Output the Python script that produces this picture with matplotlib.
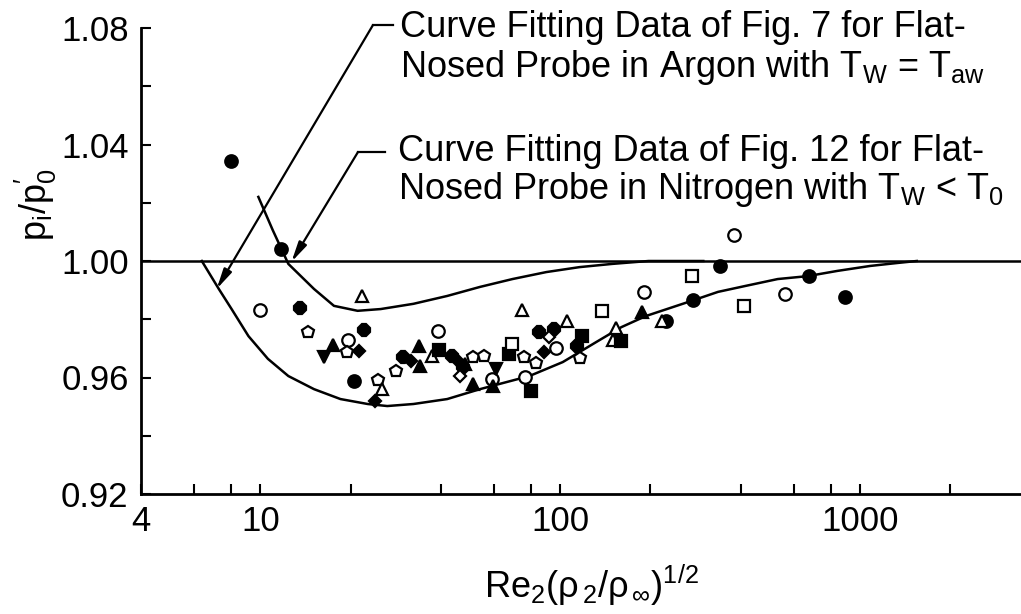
import numpy as np
import matplotlib
matplotlib.use("Agg")
import matplotlib.pyplot as plt
from matplotlib.lines import Line2D
from matplotlib.transforms import IdentityTransform
from matplotlib.ticker import FixedLocator, NullFormatter

FONT = ['Liberation Sans', 'DejaVu Sans']
plt.rcParams['font.family'] = FONT
plt.rcParams['mathtext.fontset'] = 'custom'
for k in ('rm', 'it', 'bf', 'sf'):
    plt.rcParams['mathtext.' + k] = FONT[0]

# fitted curves
argon_x = [6.38, 7.27, 8.02, 9.13, 10.6, 12.4, 15.1, 18.5, 22.8, 26.5, 32.4, 42.0,
           54.0, 62.8, 78.9, 102, 132, 160, 193, 274, 336, 413, 531, 668, 840,
           1080, 1326, 1545]
argon_y = [1.000, 0.9904, 0.9835, 0.9742, 0.9664, 0.9605, 0.9560, 0.9526, 0.9509,
           0.9502, 0.9509, 0.9526, 0.9560, 0.9578, 0.9605, 0.9653, 0.9722, 0.9773,
           0.9811, 0.9863, 0.9894, 0.9914, 0.9938, 0.9948, 0.9966, 0.9983, 0.9993,
           1.000]
nitro_x = [9.85, 11.0, 12.4, 15.1, 17.6, 21.1, 25.2, 32.4, 42.0, 54.0, 69.3, 89.9,
           116, 149, 197, 300]
nitro_y = [1.022, 1.0106, 0.999, 0.9904, 0.9846, 0.9829, 0.9835, 0.9853, 0.988,
           0.9911, 0.9938, 0.9962, 0.9979, 0.999, 1.000, 1.000]

# data points, grouped by symbol
fc_x = [7.97, 11.7, 20.5, 226, 278, 341, 678, 891]
fc_y = [1.0343, 1.0041, 0.9588, 0.9794, 0.9866, 0.9983, 0.9949, 0.9877]
oc_x = [10.0, 19.6, 39.2, 59.1, 76.6, 97.0, 191, 379, 560]
oc_y = [0.9832, 0.9729, 0.9760, 0.9595, 0.9602, 0.9702, 0.9894, 1.0089, 0.9887]
fb_x = [13.6, 22.1, 29.8, 43.5, 47.3, 85.1, 95.5, 114]
fb_y = [0.9839, 0.9763, 0.9671, 0.9674, 0.9636, 0.9756, 0.9767, 0.9708]
of_x = [14.4, 19.4, 24.6, 28.4, 51.1, 55.6, 76.0, 83.3, 116]
of_y = [0.9756, 0.9688, 0.9592, 0.9623, 0.9671, 0.9674, 0.9671, 0.9650, 0.9667]
ft_x = [17.5, 33.9, 34.1, 48.1, 51.1, 59.6, 187]
ft_y = [0.9712, 0.9708, 0.9640, 0.9647, 0.9578, 0.9571, 0.9825]
fv_x = [16.3, 60.9]
fv_y = [0.9671, 0.9630]
ot_x = [25.4, 105, 153, 21.9, 37.4, 74.3, 150, 218]
ot_y = [0.9561, 0.9794, 0.9770, 0.9880, 0.9674, 0.9832, 0.9729, 0.9794]
fs_x = [39.5, 67.7, 80.2, 118, 160]
fs_y = [0.9695, 0.9681, 0.9554, 0.9743, 0.9726]
os_x = [69.3, 138, 276, 410]
os_y = [0.9715, 0.9829, 0.9949, 0.9846]
fd_x = [21.3, 24.2, 31.9, 45.6, 88.5]
fd_y = [0.9691, 0.9520, 0.9657, 0.9657, 0.9688]
od_x = [46.3, 92.0]
od_y = [0.9606, 0.9739]

x_major = [4, 10, 100, 1000]
x_minor = [6, 8, 20, 40, 60, 80, 200, 400, 600, 800, 2000]
y_major = [0.92, 0.96, 1.00, 1.04, 1.08]
y_minor = [0.94, 0.98, 1.02, 1.06]

W, H = 1021, 614
fig = plt.figure(figsize=(W / 100, H / 100), dpi=100)
ax = fig.add_axes([141 / W, 1 - 494 / H, 1 - 141 / W, (494 - 28) / H])
ax.set_xscale('log')
ax.set_xlim(4, 3440)
ax.set_ylim(0.92, 1.08)

for s in ('top', 'right'):
    ax.spines[s].set_visible(False)
for s in ('left', 'bottom'):
    ax.spines[s].set_linewidth(2.0)

ax.xaxis.set_major_locator(FixedLocator(x_major))
ax.xaxis.set_minor_locator(FixedLocator(x_minor))
ax.xaxis.set_minor_formatter(NullFormatter())
ax.set_xticklabels([str(v) for v in x_major])
ax.yaxis.set_major_locator(FixedLocator(y_major))
ax.yaxis.set_minor_locator(FixedLocator(y_minor))
ax.set_yticklabels(['%.2f' % v for v in y_major])
ax.tick_params(which='both', direction='in', length=7, width=1.5, labelsize=25)
ax.tick_params(axis='x', pad=8)
ax.tick_params(axis='y', pad=9)

ax.axhline(1.0, color='k', lw=1.8, zorder=2)
ax.plot(argon_x, argon_y, color='k', lw=1.8, zorder=2)
ax.plot(nitro_x, nitro_y, color='k', lw=1.8, zorder=2)

def pts(x, y, m, filled, ms=9):
    ax.plot(x, y, ls='none', marker=m, ms=ms, mec='k', mew=1.6,
            mfc='k' if filled else 'white', zorder=3, clip_on=False)

pts(fc_x, fc_y, 'o', True)
pts(oc_x, oc_y, 'o', False)
pts(fb_x, fb_y, '8', True)
pts(of_x, of_y, 'p', False)
pts(ft_x, ft_y, '^', True)
pts(fv_x, fv_y, 'v', True)
pts(ot_x, ot_y, '^', False)
pts(fs_x, fs_y, 's', True, 8)
pts(os_x, os_y, 's', False, 8)
pts(fd_x, fd_y, 'D', True, 6.5)
pts(od_x, od_y, 'D', False, 6.5)

# leaders and labels (figure pixel positions, origin top-left)
def fpx(x, y):
    return (x, H - y)

arrow = dict(arrowstyle='-|>,head_length=1.0,head_width=0.22', lw=1.6,
             color='k', shrinkA=0, shrinkB=0, mutation_scale=12)
ax.annotate('', xy=(7.15, 0.9904), xycoords='data',
            xytext=fpx(373, 25), textcoords='figure pixels', arrowprops=arrow)
ax.annotate('', xy=(12.7, 0.9997), xycoords='data',
            xytext=fpx(358, 152), textcoords='figure pixels', arrowprops=arrow)
for (x0, x1, y) in [(373, 393, 25), (358, 385, 152)]:
    fig.add_artist(Line2D([x0, x1], [H - y, H - y], color='k', lw=1.6,
                          transform=IdentityTransform()))

tsize = 26
lines = [
    (400, 37, 'Curve Fitting Data of Fig. 7 for Flat-'),
    (400, 77, r'Nosed Probe in Argon with T$_\mathregular{W}$ = T$_\mathregular{aw}$'),
    (398, 161, 'Curve Fitting Data of Fig. 12 for Flat-'),
    (398, 199, r'Nosed Probe in Nitrogen with T$_\mathregular{W}$ < T$_\mathregular{0}$'),
]
for x, y, s in lines:
    fig.text(x / W, 1 - y / H, s, fontsize=tsize, va='baseline', ha='left')

fig.text(591 / W, 1 - 585 / H,
         r'$\mathregular{Re_2(\rho_{\,2}/\rho_{\,\infty})^{1/2}}$',
         fontsize=26, ha='center', va='center')
fig.text(36 / W, 1 - 205 / H, r"$\mathregular{p_i/p_0^{\prime}}$",
         fontsize=26, rotation=90, ha='center', va='center')

fig.savefig('out.png', dpi=100)
